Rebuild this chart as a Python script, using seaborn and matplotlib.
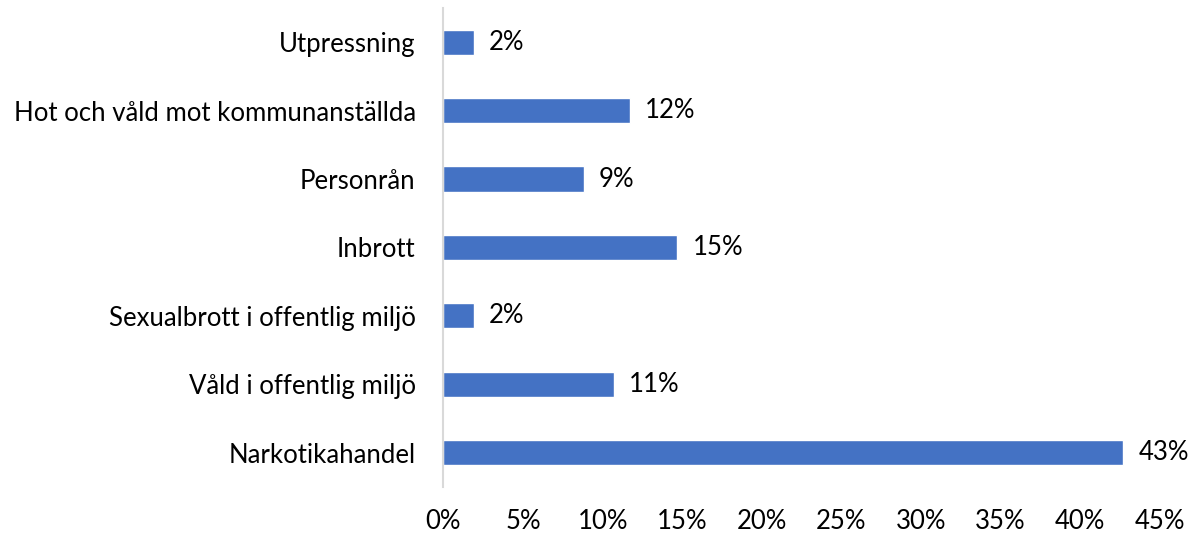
import pandas as pd
import matplotlib.pyplot as plt
import seaborn as sns

# Data (share of responses)
categories = ['Utpressning', 'Hot och våld mot kommunanställda', 'Personrån', 'Inbrott',
              'Sexualbrott i offentlig miljö', 'Våld i offentlig miljö', 'Narkotikahandel']
values = [0.019, 0.117, 0.088, 0.147, 0.019, 0.107, 0.427]
x_ticks = [0, 0.05, 0.10, 0.15, 0.20, 0.25, 0.30, 0.35, 0.40, 0.45]

df = pd.DataFrame({'category': categories, 'value': values})

sns.set_style('white')
plt.rcParams['font.family'] = ['Lato', 'DejaVu Sans']

fig = plt.figure(figsize=(11.92, 5.39), dpi=100)
ax = fig.add_axes([0.372, 0.097, 0.601, 0.888])

sns.barplot(data=df, x='value', y='category', orient='h', color='#4472C4',
            saturation=1, width=0.37, ax=ax)

# Value labels next to bars
for i, v in enumerate(values):
    ax.annotate(f'{round(v * 100):.0f}%', xy=(v, i), xytext=(11, 0),
                textcoords='offset points', va='center', ha='left',
                fontsize=18.5, color='#000000')

ax.set_xlim(0, 0.45)
ax.set_ylim(len(categories) - 0.5, -0.5)
ax.set_xticks(x_ticks)
ax.set_xticklabels([f'{round(t * 100)}%' for t in x_ticks])
ax.tick_params(axis='x', length=0, pad=16, labelsize=18.5, labelcolor='#000000')
ax.tick_params(axis='y', length=0, pad=20, labelsize=18.5, labelcolor='#000000')
ax.set_xlabel('')
ax.set_ylabel('')

for side in ['top', 'right', 'bottom']:
    ax.spines[side].set_visible(False)
ax.spines['left'].set_color('#d9d9d9')
ax.spines['left'].set_linewidth(1.5)

fig.savefig('out.png', dpi=100)
